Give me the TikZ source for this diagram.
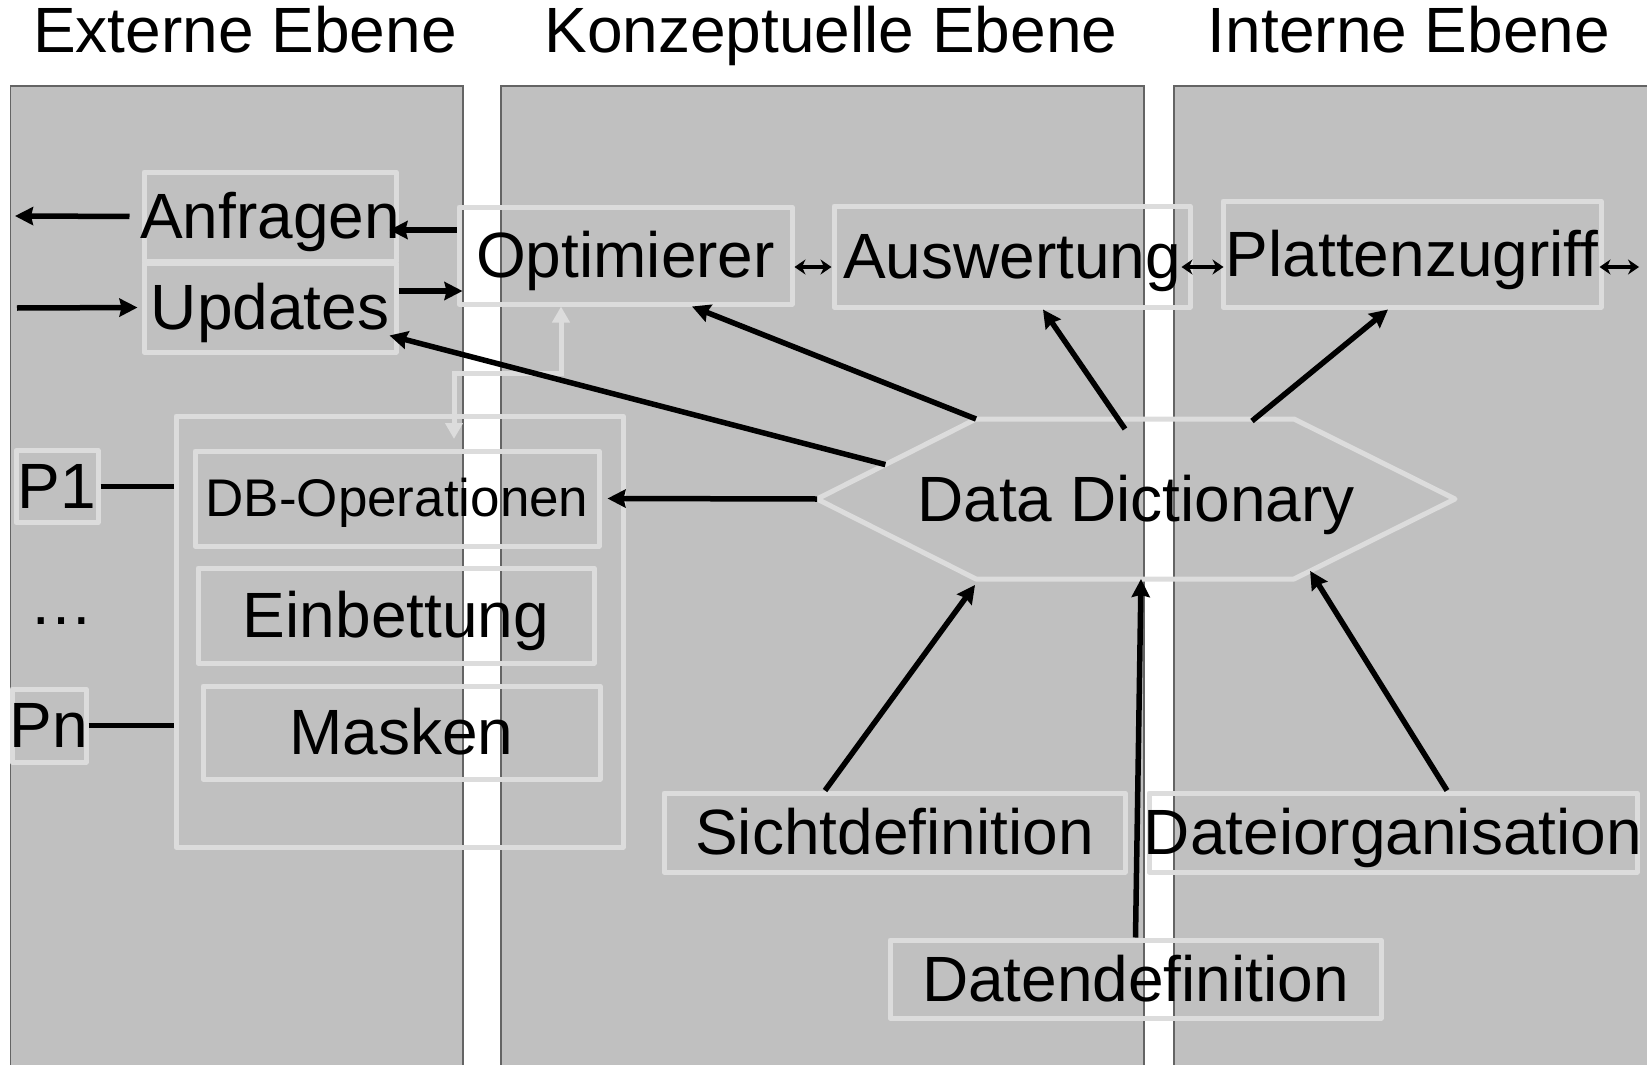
\documentclass[tikz,border=0pt]{standalone}
\usepackage{fontspec}
\setmainfont{Liberation Sans}
\usetikzlibrary{arrows.meta,calc}

\definecolor{panelgrau}{RGB}{192,192,192}
\definecolor{panelrand}{RGB}{100,100,100}
\definecolor{kastenrand}{RGB}{220,220,220}

\tikzset{
  ebene/.style={fill=panelgrau, draw=panelrand, line width=1.2pt},
  kasten/.style={draw=kastenrand, line width=5pt, line join=round, inner sep=0pt,
    font=\fontsize{64}{70}\selectfont, text height=58pt, text depth=14pt},
  titel/.style={font=\fontsize{64}{70}\selectfont, anchor=base},
  pfeil/.style={line width=5.5pt, -{Stealth[length=18pt,width=18pt,inset=2pt]}},
  strich/.style={line width=5.5pt},
  hell/.style={draw=kastenrand, line width=5pt,
    {Triangle[length=16pt,width=17pt]}-{Triangle[length=16pt,width=17pt]}},
  doppel/.style={line width=4pt,
    {Stealth[length=11pt,width=15pt]}-{Stealth[length=11pt,width=15pt]}}
}
\newcommand{\ohnebreite}[1]{\makebox[0pt]{#1}}

\begin{document}
\begin{tikzpicture}[x=1pt,y=-1pt]
  \useasboundingbox (0,0) rectangle (1647,1065);
  \clip (0,0) rectangle (1647,1065);

  \def\oben{86}
  \def\unten{1080}

  % drei Ebenen
  \draw[ebene] (10.5,\oben) rectangle (463,\unten);
  \draw[ebene] (501,\oben) rectangle (1144,\unten);
  \draw[ebene] (1174,\oben) rectangle (1660,\unten);

  \node[titel] (tExt) at (245,53) {Externe Ebene};
  \node[titel] (tKon) at (831,53) {Konzeptuelle Ebene};
  \node[titel] (tInt) at (1409,53) {Interne Ebene};

  % Kaesten
  \node[kasten, minimum width=252pt, minimum height=89pt] (anf) at (270,216.5) {\ohnebreite{Anfragen}};
  \node[kasten, minimum width=252pt, minimum height=89pt] (upd) at (270,307.5) {\ohnebreite{Updates}};
  \node[kasten, minimum width=333pt, minimum height=97pt] (opt) at (625.5,255.5) {\ohnebreite{Optimierer}};
  \node[kasten, minimum width=356pt, minimum height=101pt] (ausw) at (1012,256.5) {\ohnebreite{Auswertung}};
  \node[kasten, minimum width=378pt, minimum height=106pt] (platt) at (1412,254) {\ohnebreite{Plattenzugriff}};

  \node[kasten, minimum width=447pt, minimum height=431pt] (cont) at (399.5,631.5) {};
  \node[kasten, minimum width=404pt, minimum height=95pt, font=\fontsize{53}{60}\selectfont,
        text height=48pt, text depth=13pt] (dbop) at (397,498.5) {\ohnebreite{DB-Operationen}};
  \node[kasten, minimum width=396pt, minimum height=95pt] (einb) at (396,615.5) {\ohnebreite{Einbettung}};
  \node[kasten, minimum width=397pt, minimum height=93pt] (mask) at (401.5,732.5) {\ohnebreite{Masken}};

  \node[kasten, minimum width=82pt, minimum height=65pt] (p1) at (57,486.5) {\ohnebreite{P1}};
  \node[kasten, draw=none] (punkte) at (61,602) {\ohnebreite{…}};
  \node[kasten, minimum width=74pt, minimum height=73pt] (pn) at (49,725.5) {\ohnebreite{Pn}};

  \node[kasten, minimum width=461pt, minimum height=79pt] (sicht) at (894.5,832.5) {\ohnebreite{Sichtdefinition}};
  \node[kasten, minimum width=488pt, minimum height=79pt] (dorg) at (1393,832.5) {\ohnebreite{Dateiorganisation}};
  \node[kasten, minimum width=491pt, minimum height=78pt] (daten) at (1135.5,979) {\ohnebreite{Datendefinition}};

  % Data Dictionary
  \coordinate (dd-l) at (817,499);
  \coordinate (dd-tl) at (976,419);
  \coordinate (dd-tr) at (1294,419);
  \coordinate (dd-r) at (1455,499);
  \coordinate (dd-br) at (1294,579);
  \coordinate (dd-bl) at (976,579);
  \draw[draw=kastenrand, line width=5pt, line join=round]
    (dd-l) -- (dd-tl) -- (dd-tr) -- (dd-r) -- (dd-br) -- (dd-bl) -- cycle;
  \node[kasten, draw=none] (dd) at (1136,499) {\ohnebreite{Data Dictionary}};

  \coordinate (dd-upd) at ($(dd-l)!0.43!(dd-tl)$);
  \coordinate (dd-ausw) at (1125,429);
  \coordinate (dd-platt) at (1252,421);
  \coordinate (dd-dorg) at ($(dd-br)!0.1!(dd-r)$);

  % Pfeile links oben
  \coordinate (raus) at (15,216);
  \coordinate (rein) at (17,308);
  \draw[pfeil, shorten <=12pt] (anf.west) -- (raus);
  \draw[pfeil, shorten >=4pt] (rein) -- (upd.west);
  \draw[pfeil, shorten >=-9pt] (opt.west |- 0,230) -- (anf.east |- 0,230);
  \draw[pfeil, shorten >=-6pt] (upd.east |- 0,291) -- (opt.west |- 0,291);

  \draw[hell] (561,0 |- opt.south) -- (561,373) -- (454,373) -- (454,439);

  \draw[strich] (p1.east) -- (cont.west |- p1.east);
  \draw[strich] (pn.east) -- (cont.west |- pn.east);

  % obere Reihe
  \coordinate (weiter) at (1639,267);
  \draw[doppel] (opt.east |- 0,267) -- (ausw.west |- 0,267);
  \draw[doppel, shorten <=-11pt, shorten >=-3pt] (ausw.east |- 0,267) -- (platt.west |- 0,267);
  \draw[doppel, shorten <=-4pt] (platt.east |- 0,267) -- (weiter);

  % vom Data Dictionary
  \draw[pfeil] (dd-upd) -- ($(upd.south east)+(-9,-19)$);
  \draw[pfeil] (dd-tl) -- (opt.south -| 692,0);
  \draw[pfeil] (dd-ausw) -- (ausw.south -| 1043,0);
  \draw[pfeil] (dd-platt) -- (platt.south -| 1388,0);
  \draw[pfeil] (dd-l) -- ([xshift=6pt]dbop.east);

  % zum Data Dictionary
  \draw[pfeil] (sicht.north -| 825,0) -- ($(dd-bl)+(-1,6)$);
  \draw[pfeil] (daten.north) -- (1141,0 |- dd-bl);
  \draw[pfeil] (dorg.north -| 1447,0) -- (dd-dorg);
\end{tikzpicture}
\end{document}
